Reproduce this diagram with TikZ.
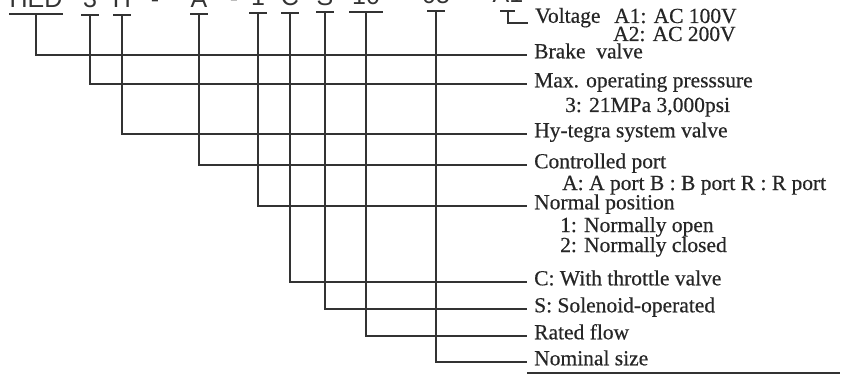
\documentclass[tikz,border=0pt]{standalone}
\usepackage{fontspec}
\setmainfont{Liberation Serif}
\newfontfamily\labelfont{Liberation Serif}[FakeBold=0.5]
\newfontfamily\codefont{Liberation Sans}
\begin{document}
\begin{tikzpicture}[x=1pt,y=-1pt,
  conn/.style={draw=black!80, line width=1.1pt},
  lbl/.style={anchor=west, inner xsep=7pt, inner ysep=0pt, text height=0.66em, text depth=0pt,
    font=\labelfont\fontsize{21.5}{20}\selectfont, text=black!85},
  sublbl/.style={anchor=base west, inner sep=0pt, font=\labelfont\fontsize{21.5}{20}\selectfont, text=black!85},
  code/.style={anchor=base, inner sep=0pt, font=\codefont\fontsize{25}{25}\selectfont, text=black!80},
]
\clip (0,0) rectangle (856,374);
% model code (top row, cut off by the frame)
\node[code] (cHED) at (36,8) {HED};
\node[code] (c3) at (90,8) {3};
\node[code] (cH) at (122,8) {H};
\node[code] (d1) at (155,7.2) {-};
\node[code] (cA) at (199,7.5) {A};
\node[code] (d2) at (234,6.8) {-};
\node[code] (c1) at (258,5.5) {1};
\node[code] (cC) at (290,5.5) {C};
\node[code] (cS) at (325,5.5) {S};
\node[code] (c10) at (366,5) {10};
\node[code] (c05) at (436,3.5) {05};
\node[code] (cA1) at (508,2.5) {A1};
% underline bars
\coordinate (bHED) at (36,14);
\coordinate (b3) at (90,15);
\coordinate (bH) at (122,15);
\coordinate (bA) at (199,14);
\coordinate (b1) at (258,13);
\coordinate (bC) at (290,13);
\coordinate (bS) at (325,12);
\coordinate (b10) at (366,12);
\coordinate (b05) at (436,11);
\coordinate (bA1) at (508,11);
\draw[conn] ([xshift=-27pt]bHED) -- ([xshift=27pt]bHED);
\foreach \b in {b3,bH,bA,b1,bC,bS,b05}{
  \draw[conn] ([xshift=-9pt]\b) -- ([xshift=9pt]\b);
}
\draw[conn] ([xshift=-17pt]b10) -- ([xshift=17pt]b10);
\draw[conn] ([xshift=-8pt]bA1) -- ([xshift=7pt]bA1);
% labels
\node[lbl, anchor=south west] (volt) at (528,23) {Voltage};
\node[sublbl] (va1) at (614,23) {A1: AC 100V};
\node[sublbl] (va2) at (613,41) {A2: AC 200V};
\node[lbl] (brake) at (527,55) {Brake\hspace{0.5em}valve};
\node[lbl] (press) at (527,84) {Max. operating presssure};
\node[sublbl] (press2) at (565,112) {3: 21MPa 3,000psi};
\node[lbl] (hyt) at (527,134) {Hy-tegra system valve};
\node[lbl] (port) at (527,165) {Controlled port};
\node[sublbl] (port2) at (562,190) {A: A port B : B port R : R port};
\node[lbl] (normal) at (527,206) {Normal position};
\node[sublbl] (normal1) at (560,232) {1: Normally open};
\node[sublbl] (normal2) at (560,252) {2: Normally closed};
\node[lbl] (thr) at (527,282) {C: With throttle valve};
\node[lbl] (sol) at (527,309) {S: Solenoid-operated};
\node[lbl] (flow) at (527,336) {Rated flow};
\node[lbl] (size) at (527,362) {Nominal size};
% connectors
\draw[conn] (bA1) |- (volt.south west);
\draw[conn] (bHED) |- (brake.west);
\draw[conn] (b3) |- (press.west);
\draw[conn] (bH) |- (hyt.west);
\draw[conn] (bA) |- (port.west);
\draw[conn] (b1) |- (normal.west);
\draw[conn] (bC) |- (thr.west);
\draw[conn] (bS) |- (sol.west);
\draw[conn] (b10) |- (flow.west);
\draw[conn] (b05) |- (size.west);
% bottom rule
\draw[line width=1.6pt, black!80] (size.west |- 0,373) -- (840,373);
\end{tikzpicture}
\end{document}
